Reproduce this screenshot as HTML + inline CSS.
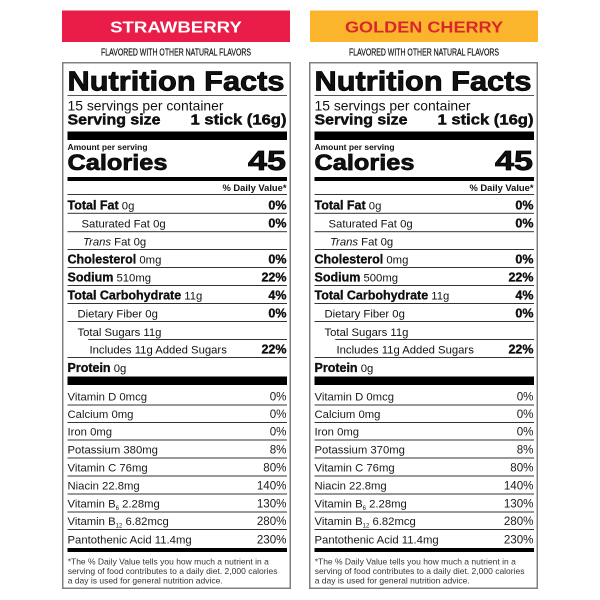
<!DOCTYPE html>
<html>
<head>
<meta charset="utf-8">
<style>
html,body{margin:0;padding:0;background:#fff;width:600px;height:600px;overflow:hidden}
svg{display:block}
</style>
</head>
<body>
<svg width="600" height="600" viewBox="0 0 600 600" font-family="'Liberation Sans', Arial, sans-serif" fill="#111">
<rect width="600" height="600" fill="#fff"/>

<!-- Banners -->
<rect x="62" y="10.5" width="228" height="31.5" fill="#ea1c48"/>
<text x="176" y="32.3" text-anchor="middle" font-size="16" font-weight="bold" fill="#fff" textLength="131.7" lengthAdjust="spacingAndGlyphs">STRAWBERRY</text>
<rect x="310" y="10.5" width="228" height="31.5" fill="#fbb52d"/>
<text x="424" y="32.3" text-anchor="middle" font-size="16" font-weight="bold" fill="#d8262b" textLength="158" lengthAdjust="spacingAndGlyphs">GOLDEN CHERRY</text>

<text x="176" y="55.3" text-anchor="middle" font-size="10" fill="#1a1a1a" stroke="#1a1a1a" stroke-width="0.25" textLength="150" lengthAdjust="spacingAndGlyphs">FLAVORED WITH OTHER NATURAL FLAVORS</text>
<text x="424" y="55.3" text-anchor="middle" font-size="10" fill="#1a1a1a" stroke="#1a1a1a" stroke-width="0.25" textLength="150" lengthAdjust="spacingAndGlyphs">FLAVORED WITH OTHER NATURAL FLAVORS</text>

<!-- LEFT PANEL -->
<g>
<rect x="62.75" y="62.75" width="227.5" height="525.5" fill="none" stroke="#808080" stroke-width="1.5"/>
<text x="67.5" y="90.5" font-size="28" font-weight="bold" textLength="217" lengthAdjust="spacingAndGlyphs" stroke="#000" stroke-width="0.8">Nutrition Facts</text>
<rect x="67.5" y="95" width="219.5" height="1" fill="#555"/>
<text x="67.5" y="110.5" font-size="14" textLength="156" lengthAdjust="spacingAndGlyphs">15 servings per container</text>
<text x="67.5" y="124.5" font-size="14.5" font-weight="bold" textLength="93" lengthAdjust="spacingAndGlyphs" stroke="#000" stroke-width="0.4">Serving size</text>
<text x="286.5" y="124.5" text-anchor="end" font-size="14.5" font-weight="bold" textLength="96" lengthAdjust="spacingAndGlyphs" stroke="#000" stroke-width="0.4">1 stick (16g)</text>
<rect x="67.5" y="131.5" width="219.5" height="8.5" fill="#000"/>
<text x="67.5" y="150" font-size="8.5" font-weight="bold" textLength="80" lengthAdjust="spacingAndGlyphs">Amount per serving</text>
<text x="67.5" y="170" font-size="22.5" font-weight="bold" textLength="100" lengthAdjust="spacingAndGlyphs" stroke="#000" stroke-width="0.7">Calories</text>
<text x="286" y="170" text-anchor="end" font-size="28" font-weight="bold" textLength="38" lengthAdjust="spacingAndGlyphs" stroke="#000" stroke-width="0.8">45</text>
<rect x="67.5" y="177" width="219.5" height="4" fill="#000"/>
<text x="286.5" y="191" text-anchor="end" font-size="9" font-weight="bold" textLength="64" lengthAdjust="spacingAndGlyphs">% Daily Value*</text>

<g fill="#333">
<rect x="67.5" y="194" width="219.5" height="1"/>
<rect x="67.5" y="212.8" width="219.5" height="1"/>
<rect x="67.5" y="231.2" width="219.5" height="1"/>
<rect x="67.5" y="249" width="219.5" height="1"/>
<rect x="67.5" y="267" width="219.5" height="1"/>
<rect x="67.5" y="285" width="219.5" height="1"/>
<rect x="67.5" y="303" width="219.5" height="1"/>
<rect x="67.5" y="321" width="219.5" height="1"/>
<rect x="88.3" y="339" width="198.7" height="1"/>
<rect x="67.5" y="357" width="219.5" height="1"/>
</g>

<g font-size="11.3">
<text x="67.5" y="209.5"><tspan font-size="12.5" font-weight="bold" stroke="#000" stroke-width="0.3">Total Fat</tspan> 0g</text>
<text x="81.5" y="227.5">Saturated Fat 0g</text>
<text x="83" y="245.5"><tspan font-style="italic">Trans</tspan> Fat 0g</text>
<text x="67.5" y="263.5"><tspan font-size="12.5" font-weight="bold" stroke="#000" stroke-width="0.3">Cholesterol</tspan> 0mg</text>
<text x="67.5" y="281.5"><tspan font-size="12.5" font-weight="bold" stroke="#000" stroke-width="0.3">Sodium</tspan> 510mg</text>
<text x="67.5" y="299.5"><tspan font-size="12.5" font-weight="bold" stroke="#000" stroke-width="0.3">Total Carbohydrate</tspan> 11g</text>
<text x="77.5" y="317.5">Dietary Fiber 0g</text>
<text x="77.5" y="335.8">Total Sugars 11g</text>
<text x="89.5" y="353.5">Includes 11g Added Sugars</text>
<text x="67.5" y="372"><tspan font-size="12.5" font-weight="bold" stroke="#000" stroke-width="0.3">Protein</tspan> 0g</text>
</g>
<g font-size="12.5" font-weight="bold" text-anchor="end" stroke="#000" stroke-width="0.3">
<text x="286.5" y="209.5">0%</text>
<text x="286.5" y="227.5">0%</text>
<text x="286.5" y="263.5">0%</text>
<text x="286.5" y="281.5">22%</text>
<text x="286.5" y="299.5">4%</text>
<text x="286.5" y="317.5">0%</text>
<text x="286.5" y="353.5">22%</text>
</g>

<rect x="67.5" y="376.5" width="219.5" height="8.5" fill="#000"/>
<g fill="#333">
<rect x="67.5" y="404.5" width="219.5" height="1"/>
<rect x="67.5" y="422" width="219.5" height="1"/>
<rect x="67.5" y="439.5" width="219.5" height="1"/>
<rect x="67.5" y="457.5" width="219.5" height="1"/>
<rect x="67.5" y="475.5" width="219.5" height="1"/>
<rect x="67.5" y="493.5" width="219.5" height="1"/>
<rect x="67.5" y="511.5" width="219.5" height="1"/>
<rect x="67.5" y="529" width="219.5" height="1"/>
</g>
<g font-size="11.3" fill="#1a1a1a">
<text x="67.5" y="400.5">Vitamin D 0mcg</text>
<text x="67.5" y="418">Calcium 0mg</text>
<text x="67.5" y="435.5">Iron 0mg</text>
<text x="67.5" y="453.5">Potassium 380mg</text>
<text x="67.5" y="471.5">Vitamin C 76mg</text>
<text x="67.5" y="489.5">Niacin 22.8mg</text>
<text x="67.5" y="507.5">Vitamin B<tspan font-size="6" dy="2.5">6</tspan><tspan dy="-2.5"> 2.28mg</tspan></text>
<text x="67.5" y="525">Vitamin B<tspan font-size="6" dy="2.5">12</tspan><tspan dy="-2.5"> 6.82mcg</tspan></text>
<text x="67.5" y="543.5">Pantothenic Acid 11.4mg</text>
</g>
<g font-size="11.6" text-anchor="end" fill="#1a1a1a">
<text x="286.5" y="400.5">0%</text>
<text x="286.5" y="418">0%</text>
<text x="286.5" y="435.5">0%</text>
<text x="286.5" y="453.5">8%</text>
<text x="286.5" y="471.5">80%</text>
<text x="286.5" y="489.5">140%</text>
<text x="286.5" y="507.5">130%</text>
<text x="286.5" y="525">280%</text>
<text x="286.5" y="543.5">230%</text>
</g>
<rect x="67.5" y="548" width="219.5" height="4" fill="#000"/>
<g font-size="8.5" fill="#333">
<text x="67.7" y="564.5">*The % Daily Value tells you how much a nutrient in a</text>
<text x="67.7" y="574">serving of food contributes to a daily diet. 2,000 calories</text>
<text x="67.7" y="583.5">a day is used for general nutrition advice.</text>
</g>
</g>

<!-- RIGHT PANEL -->
<g transform="translate(247,0)">
<rect x="62.75" y="62.75" width="227.5" height="525.5" fill="none" stroke="#808080" stroke-width="1.5"/>
<text x="67.5" y="90.5" font-size="28" font-weight="bold" textLength="217" lengthAdjust="spacingAndGlyphs" stroke="#000" stroke-width="0.8">Nutrition Facts</text>
<rect x="67.5" y="95" width="219.5" height="1" fill="#555"/>
<text x="67.5" y="110.5" font-size="14" textLength="156" lengthAdjust="spacingAndGlyphs">15 servings per container</text>
<text x="67.5" y="124.5" font-size="14.5" font-weight="bold" textLength="93" lengthAdjust="spacingAndGlyphs" stroke="#000" stroke-width="0.4">Serving size</text>
<text x="286.5" y="124.5" text-anchor="end" font-size="14.5" font-weight="bold" textLength="96" lengthAdjust="spacingAndGlyphs" stroke="#000" stroke-width="0.4">1 stick (16g)</text>
<rect x="67.5" y="131.5" width="219.5" height="8.5" fill="#000"/>
<text x="67.5" y="150" font-size="8.5" font-weight="bold" textLength="80" lengthAdjust="spacingAndGlyphs">Amount per serving</text>
<text x="67.5" y="170" font-size="22.5" font-weight="bold" textLength="100" lengthAdjust="spacingAndGlyphs" stroke="#000" stroke-width="0.7">Calories</text>
<text x="286" y="170" text-anchor="end" font-size="28" font-weight="bold" textLength="38" lengthAdjust="spacingAndGlyphs" stroke="#000" stroke-width="0.8">45</text>
<rect x="67.5" y="177" width="219.5" height="4" fill="#000"/>
<text x="286.5" y="191" text-anchor="end" font-size="9" font-weight="bold" textLength="64" lengthAdjust="spacingAndGlyphs">% Daily Value*</text>

<g fill="#333">
<rect x="67.5" y="194" width="219.5" height="1"/>
<rect x="67.5" y="212.8" width="219.5" height="1"/>
<rect x="67.5" y="231.2" width="219.5" height="1"/>
<rect x="67.5" y="249" width="219.5" height="1"/>
<rect x="67.5" y="267" width="219.5" height="1"/>
<rect x="67.5" y="285" width="219.5" height="1"/>
<rect x="67.5" y="303" width="219.5" height="1"/>
<rect x="67.5" y="321" width="219.5" height="1"/>
<rect x="88.3" y="339" width="198.7" height="1"/>
<rect x="67.5" y="357" width="219.5" height="1"/>
</g>

<g font-size="11.3">
<text x="67.5" y="209.5"><tspan font-size="12.5" font-weight="bold" stroke="#000" stroke-width="0.3">Total Fat</tspan> 0g</text>
<text x="81.5" y="227.5">Saturated Fat 0g</text>
<text x="83" y="245.5"><tspan font-style="italic">Trans</tspan> Fat 0g</text>
<text x="67.5" y="263.5"><tspan font-size="12.5" font-weight="bold" stroke="#000" stroke-width="0.3">Cholesterol</tspan> 0mg</text>
<text x="67.5" y="281.5"><tspan font-size="12.5" font-weight="bold" stroke="#000" stroke-width="0.3">Sodium</tspan> 500mg</text>
<text x="67.5" y="299.5"><tspan font-size="12.5" font-weight="bold" stroke="#000" stroke-width="0.3">Total Carbohydrate</tspan> 11g</text>
<text x="77.5" y="317.5">Dietary Fiber 0g</text>
<text x="77.5" y="335.8">Total Sugars 11g</text>
<text x="89.5" y="353.5">Includes 11g Added Sugars</text>
<text x="67.5" y="372"><tspan font-size="12.5" font-weight="bold" stroke="#000" stroke-width="0.3">Protein</tspan> 0g</text>
</g>
<g font-size="12.5" font-weight="bold" text-anchor="end" stroke="#000" stroke-width="0.3">
<text x="286.5" y="209.5">0%</text>
<text x="286.5" y="227.5">0%</text>
<text x="286.5" y="263.5">0%</text>
<text x="286.5" y="281.5">22%</text>
<text x="286.5" y="299.5">4%</text>
<text x="286.5" y="317.5">0%</text>
<text x="286.5" y="353.5">22%</text>
</g>

<rect x="67.5" y="376.5" width="219.5" height="8.5" fill="#000"/>
<g fill="#333">
<rect x="67.5" y="404.5" width="219.5" height="1"/>
<rect x="67.5" y="422" width="219.5" height="1"/>
<rect x="67.5" y="439.5" width="219.5" height="1"/>
<rect x="67.5" y="457.5" width="219.5" height="1"/>
<rect x="67.5" y="475.5" width="219.5" height="1"/>
<rect x="67.5" y="493.5" width="219.5" height="1"/>
<rect x="67.5" y="511.5" width="219.5" height="1"/>
<rect x="67.5" y="529" width="219.5" height="1"/>
</g>
<g font-size="11.3" fill="#1a1a1a">
<text x="67.5" y="400.5">Vitamin D 0mcg</text>
<text x="67.5" y="418">Calcium 0mg</text>
<text x="67.5" y="435.5">Iron 0mg</text>
<text x="67.5" y="453.5">Potassium 370mg</text>
<text x="67.5" y="471.5">Vitamin C 76mg</text>
<text x="67.5" y="489.5">Niacin 22.8mg</text>
<text x="67.5" y="507.5">Vitamin B<tspan font-size="6" dy="2.5">6</tspan><tspan dy="-2.5"> 2.28mg</tspan></text>
<text x="67.5" y="525">Vitamin B<tspan font-size="6" dy="2.5">12</tspan><tspan dy="-2.5"> 6.82mcg</tspan></text>
<text x="67.5" y="543.5">Pantothenic Acid 11.4mg</text>
</g>
<g font-size="11.6" text-anchor="end" fill="#1a1a1a">
<text x="286.5" y="400.5">0%</text>
<text x="286.5" y="418">0%</text>
<text x="286.5" y="435.5">0%</text>
<text x="286.5" y="453.5">8%</text>
<text x="286.5" y="471.5">80%</text>
<text x="286.5" y="489.5">140%</text>
<text x="286.5" y="507.5">130%</text>
<text x="286.5" y="525">280%</text>
<text x="286.5" y="543.5">230%</text>
</g>
<rect x="67.5" y="548" width="219.5" height="4" fill="#000"/>
<g font-size="8.5" fill="#333">
<text x="67.7" y="564.5">*The % Daily Value tells you how much a nutrient in a</text>
<text x="67.7" y="574">serving of food contributes to a daily diet. 2,000 calories</text>
<text x="67.7" y="583.5">a day is used for general nutrition advice.</text>
</g>
</g>
</svg>
</body>
</html>
